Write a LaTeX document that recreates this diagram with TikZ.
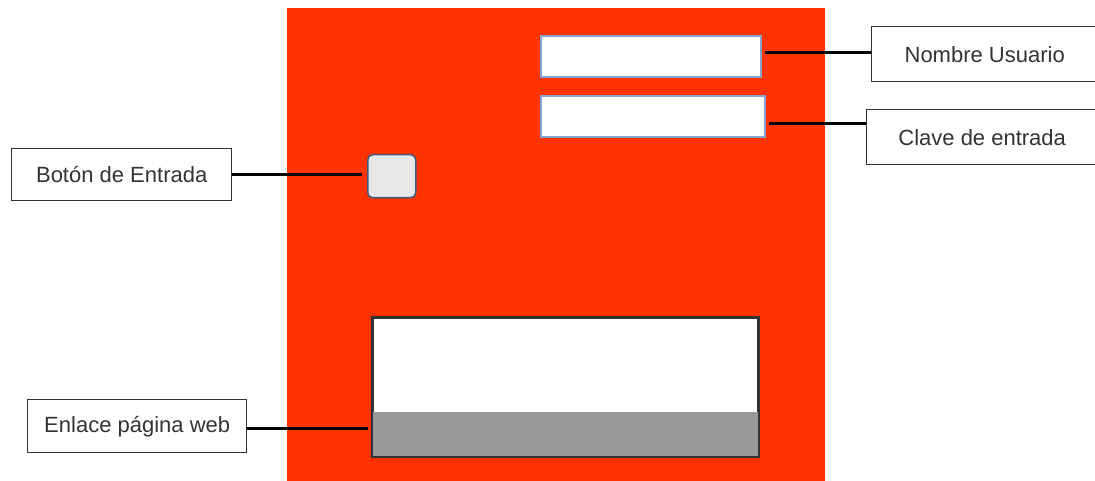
\documentclass[tikz,border=0pt]{standalone}
\usepackage{fontspec}
\setmainfont{Liberation Sans}
\definecolor{panelred}{HTML}{FF3300}
\definecolor{fieldblue}{HTML}{86A3CF}
\definecolor{btnfill}{HTML}{E8E8E8}
\definecolor{btnedge}{HTML}{3F5B80}
\definecolor{txtgray}{HTML}{333333}
\definecolor{linkgray}{HTML}{999999}
\begin{document}
\begin{tikzpicture}[x=1pt,y=-1pt,
  label box/.style={draw=black!80, line width=1.4pt, fill=white, anchor=north west, inner sep=0pt,
    text=txtgray, font=\fontsize{22}{26}\selectfont},
  field/.style={draw=fieldblue, line width=2pt, fill=white, anchor=north west, inner sep=0pt},
  connector/.style={line width=3pt, black}]
\useasboundingbox (0,0) rectangle (1095,481);
% panel
\node[fill=panelred, anchor=north west, inner sep=0pt, minimum width=538pt, minimum height=475pt] (panel) at (287,8) {};
% fields
\node[field, minimum width=220pt, minimum height=41pt] (tb1) at (540,35) {};
\node[field, minimum width=224pt, minimum height=41pt] (tb2) at (540,95) {};
% button
\node[draw=btnedge, line width=1.5pt, fill=btnfill, rounded corners=5pt, anchor=north west, inner sep=0pt,
  minimum width=48pt, minimum height=43pt] (btn) at (367,154) {};
% link box
\node[draw=black!80, line width=2pt, fill=white, anchor=north west, inner sep=0pt,
  minimum width=385pt, minimum height=138pt] (link) at (372,317) {};
\fill[linkgray] ([xshift=1pt,yshift=-95pt]link.north west) rectangle ([xshift=-1pt,yshift=1pt]link.south east);
\draw[black!80, line width=2pt] (link.north west) rectangle (link.south east);
% labels
\node[label box, minimum width=226pt, minimum height=55pt] (nombre) at (871,26) {Nombre Usuario};
\node[label box, minimum width=231pt, minimum height=55pt] (clave) at (866,109) {Clave de entrada};
\node[label box, minimum width=220pt, minimum height=52pt] (boton) at (11,148) {Botón de Entrada};
\node[label box, minimum width=219pt, minimum height=53pt] (enlace) at (27,399) {Enlace página web};
% connectors
\coordinate (cy) at (0,124);
\coordinate (ny) at (0,53);
\coordinate (ey) at (0,428);
\draw[connector] ([xshift=3pt]tb1.east |- ny) -- (nombre.west |- ny);
\draw[connector] ([xshift=3pt]tb2.east |- cy) -- (clave.west |- cy);
\draw[connector] (boton.east) -- ([xshift=-5pt]btn.west |- boton.east);
\draw[connector] (enlace.east |- ey) -- ([xshift=-4pt]link.west |- ey);
\end{tikzpicture}
\end{document}
